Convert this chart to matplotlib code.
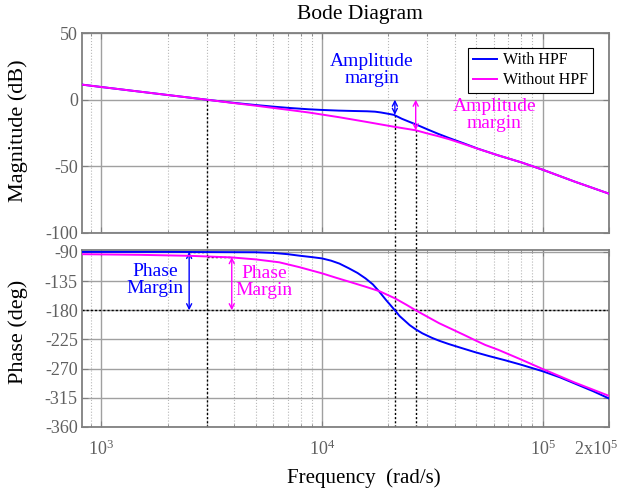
import matplotlib
matplotlib.use('Agg')
import matplotlib.pyplot as plt
import matplotlib.transforms as mtransforms
import numpy as np
from matplotlib.ticker import FixedLocator, LogLocator, NullFormatter

plt.rcParams['font.family'] = ['Liberation Serif', 'DejaVu Serif']
plt.rcParams['mathtext.fontset'] = 'custom'
plt.rcParams['mathtext.rm'] = 'Liberation Serif'
plt.rcParams['axes.unicode_minus'] = False

# magnitude (dB)
freq_mag_hpf = [817, 1000, 2000, 3000, 4000, 5000, 6000, 7100, 8700, 10000, 11900, 14000, 16000,
                17400, 18500, 19700, 21200, 23000, 24800, 26700, 30000, 33500, 37600, 44000, 51000,
                63000, 80000, 100000, 140000, 200000]
mag_hpf = [11.3, 9.5, 3.5, 0.0, -2.4, -4.0, -5.2, -6.2, -7.2, -7.7, -8.2, -8.5, -8.7,
           -9.0, -9.6, -10.4, -11.4, -14.3, -16.5, -18.6, -22.2, -25.5, -28.7, -32.8, -36.8,
           -41.8, -47.0, -52.5, -61.5, -70.5]

freq_mag_nohpf = [817, 1000, 2000, 3000, 4000, 5000, 7100, 8700, 11900, 15700, 21200, 26700,
                  30000, 33500, 37600, 44000, 51000, 63000, 80000, 100000, 140000, 200000]
mag_nohpf = [11.3, 9.5, 3.5, 0.0, -2.6, -4.5, -7.7, -9.6, -13.1, -16.5, -20.3, -23.0,
             -25.3, -27.3, -29.6, -33.3, -36.9, -41.8, -47.0, -52.5, -61.5, -70.5]

# phase (deg)
freq_ph_hpf = [817, 2000, 5000, 6000, 7000, 7900, 9000, 10000, 11000, 12000, 13250, 14500,
               15750, 17000, 18100, 19500, 21400, 22500, 23900, 25000, 26500, 28500, 31500,
               34000, 37500, 43000, 49300, 57000, 67500, 80000, 100000, 120000, 140000, 170000, 200000]
ph_hpf = [-90, -90, -90.5, -91.5, -93.5, -95.8, -98, -100, -103.5, -108, -115.3, -122.5,
          -130.8, -140, -150.4, -164, -180, -189, -197, -203, -209, -215.5, -222.5,
          -227, -232, -238.3, -244.5, -250.5, -257, -264, -274, -283.5, -293, -305, -316]

freq_ph_nohpf = [817, 1500, 2500, 3000, 3900, 5000, 6400, 7900, 10000, 11500, 13300, 15700,
                 18200, 21400, 24000, 26600, 30800, 34000, 39000, 44700, 49300, 55000, 63000,
                 80000, 100000, 140000, 200000]
ph_nohpf = [-93.5, -94.5, -96, -97, -98.5, -101.5, -106, -113.5, -123, -129.5, -136, -143.5,
            -150.5, -161.5, -171, -180, -192, -200, -209.5, -219, -226, -233.5, -241,
            -256, -270.5, -291.5, -312]

# crossover / margin points
w_gc = 3000            # gain crossover
w_pc_hpf = 21400       # phase crossover with HPF
w_pc_nohpf = 26600     # phase crossover without HPF
am_hpf = -11.4
am_nohpf = -23.0
pm_f_hpf, pm_top_hpf = 2500, -90
pm_f_nohpf, pm_top_nohpf = 3900, -98

blue = '#0000ff'
mag_c = '#ff00ff'
gray = '#808080'
tick_c = '#606060'
dot = (0, (1.5, 1.5))

fig = plt.figure(figsize=(6.17, 4.95), dpi=100)
ax1 = fig.add_axes([0.1329, 0.5293, 0.8541, 0.404])
ax2 = fig.add_axes([0.1329, 0.1374, 0.8541, 0.3576])

for ax in (ax1, ax2):
    ax.set_xscale('log')
    ax.set_xlim(817, 2e5)
    ax.xaxis.set_major_locator(FixedLocator([1e3, 1e4, 1e5, 2e5]))
    ax.xaxis.set_minor_locator(LogLocator(base=10, subs=np.arange(2, 10)))
    ax.xaxis.set_minor_formatter(NullFormatter())
    ax.grid(which='major', color='#a0a0a0', lw=1.0, ls='-')
    ax.grid(which='minor', axis='x', color='#b8b8b8', lw=0.8, ls=':')
    ax.set_axisbelow(True)
    ax.tick_params(which='both', direction='in', top=True, right=True, color=gray,
                   labelcolor=tick_c, labelsize=13)
    ax.tick_params(which='major', length=4)
    ax.tick_params(which='minor', length=2)
    ax.tick_params(axis='y', pad=3)
    for s in ax.spines.values():
        s.set_color(gray)
        s.set_linewidth(1.3)

# magnitude
ax1.set_ylim(-100, 50)
ax1.set_yticks([50, 0, -50, -100])
ax1.tick_params(labelbottom=False)
ax1.plot(freq_mag_hpf, mag_hpf, color=blue, lw=1.4, label='With HPF', zorder=3)
ax1.plot(freq_mag_nohpf, mag_nohpf, color=mag_c, lw=1.4, label='Without HPF', zorder=4)
ax1.plot([w_gc, w_gc], [0, -113], color='k', lw=1, ls=dot, clip_on=False, zorder=2)
ax1.plot([w_pc_hpf, w_pc_hpf], [am_hpf, -113], color='k', lw=1, ls=dot, clip_on=False, zorder=2)
ax1.plot([w_pc_nohpf, w_pc_nohpf], [am_nohpf, -113], color='k', lw=1, ls=dot, clip_on=False, zorder=2)
ax1.annotate('', xy=(w_pc_hpf, am_hpf), xytext=(w_pc_hpf, 0),
             arrowprops=dict(arrowstyle='<->', color=blue, lw=1, shrinkA=0, shrinkB=0, mutation_scale=9))
ax1.annotate('', xy=(w_pc_nohpf, am_nohpf), xytext=(w_pc_nohpf, 0),
             arrowprops=dict(arrowstyle='<->', color=mag_c, lw=1, shrinkA=0, shrinkB=0, mutation_scale=9))
ax1.text(16800, 22, 'Amplitude\nmargin', color=blue, fontsize=14, ha='center', va='center', linespacing=1.0)
ax1.text(60500, -11.4, 'Amplitude\nmargin', color=mag_c, fontsize=14, ha='center', va='center', linespacing=1.0)
leg = ax1.legend(loc='upper right', bbox_to_anchor=(0.97, 0.927), borderaxespad=0, fontsize=11.5,
                 fancybox=False, framealpha=1, edgecolor='k', handlelength=1.5, handletextpad=0.4,
                 borderpad=0.3, labelspacing=0.25)
leg.get_frame().set_linewidth(0.8)

# phase
ax2.set_ylim(-360, -87)
ax2.set_yticks([-90, -135, -180, -225, -270, -315, -360])
ax2.set_xticklabels([r'$\mathregular{10^{3}}$', r'$\mathregular{10^{4}}$',
                     r'$\mathregular{10^{5}}$', r'$\mathregular{2x10^{5}}$'])
ax2.tick_params(axis='x', pad=9)
ax2.plot(freq_ph_hpf, ph_hpf, color=blue, lw=1.4, zorder=3)
ax2.plot(freq_ph_nohpf, ph_nohpf, color=mag_c, lw=1.4, zorder=4)
ax2.axhline(-180, color='k', lw=1, ls=dot, zorder=2)
for w in (w_gc, w_pc_hpf, w_pc_nohpf):
    ax2.axvline(w, color='k', lw=1, ls=dot, zorder=2)
ax2.plot([pm_f_hpf, w_gc], [pm_top_hpf - 0.5, pm_top_hpf - 0.5], color='k', lw=1, ls=dot, zorder=2)
ax2.plot([w_gc, pm_f_nohpf], [pm_top_nohpf, pm_top_nohpf], color='k', lw=1, ls=dot, zorder=2)
ax2.annotate('', xy=(pm_f_hpf, -180), xytext=(pm_f_hpf, pm_top_hpf),
             arrowprops=dict(arrowstyle='<->', color=blue, lw=1, shrinkA=0, shrinkB=0, mutation_scale=9))
ax2.annotate('', xy=(pm_f_nohpf, -180), xytext=(pm_f_nohpf, pm_top_nohpf),
             arrowprops=dict(arrowstyle='<->', color=mag_c, lw=1, shrinkA=0, shrinkB=0, mutation_scale=9))
ax2.text(1758, -133.4, 'Phase\nMargin', color=blue, fontsize=14, ha='center', va='center', linespacing=1.0)
ax2.text(5447, -136.5, 'Phase\nMargin', color=mag_c, fontsize=14, ha='center', va='center', linespacing=1.0)

# shift the last tick label a bit left like the original
lbl = ax2.get_xticklabels()[-1]
lbl.set_transform(lbl.get_transform() + mtransforms.ScaledTranslation(-0.13, 0, fig.dpi_scale_trans))

fig.text(0.5835, 1 - 14 / 495, 'Bode Diagram', ha='center', va='center', fontsize=15.5)
fig.text(18 / 617, 1 - 131 / 495, 'Magnitude (dB)', rotation=90, ha='center', va='center', fontsize=16)
fig.text(18 / 617, 1 - 332 / 495, 'Phase (deg)', rotation=90, ha='center', va='center', fontsize=16)
fig.text(364 / 617, 1 - 478 / 495, 'Frequency  (rad/s)', ha='center', va='center', fontsize=15)

fig.savefig('out.png', dpi=100)
